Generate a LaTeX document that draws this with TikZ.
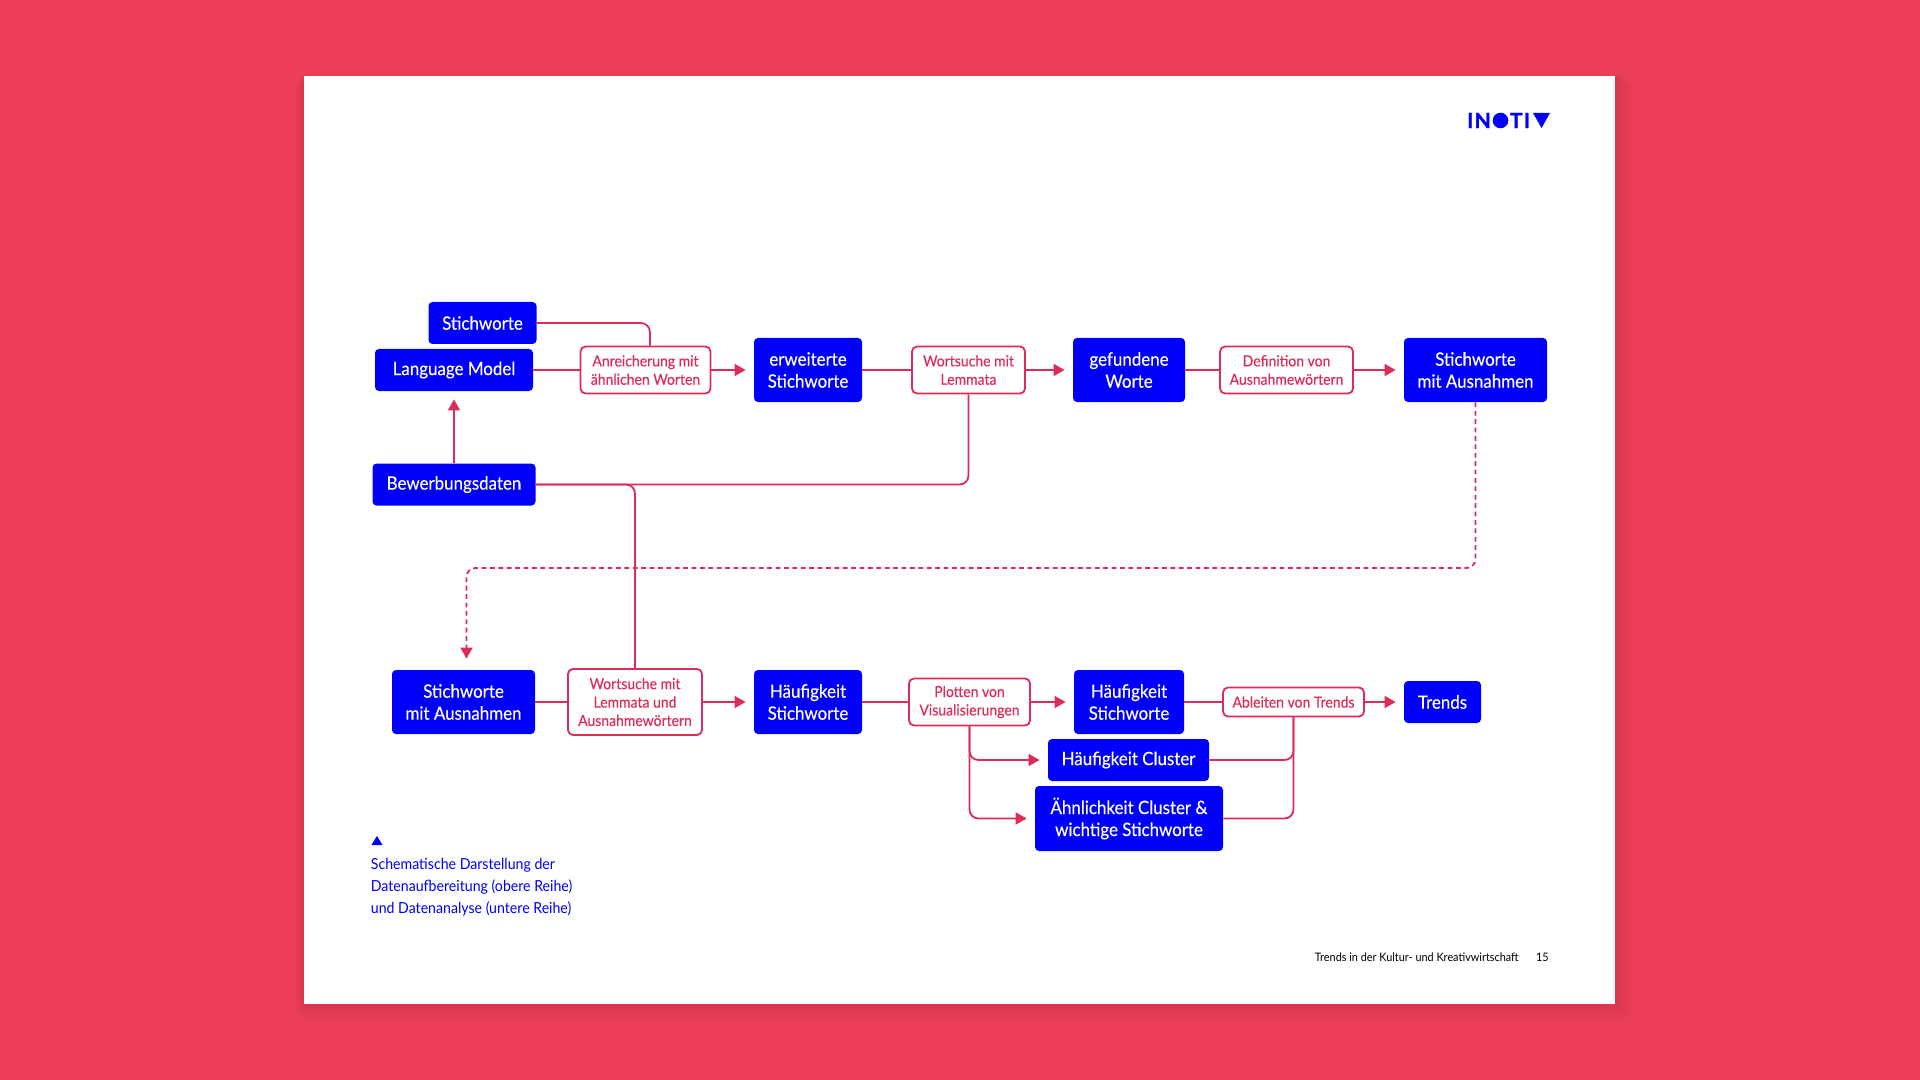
\documentclass[tikz,border=0pt]{standalone}
\usepackage{fontspec}
\setmainfont[FakeStretch=0.92,FakeBold=0.25]{Lato}
\newfontfamily\plainfont[FakeStretch=0.93]{Lato}
\newfontfamily\logofont[FakeBold=1.2,LetterSpace=6]{Lato}
\usepackage{tikz}
\usetikzlibrary{arrows.meta}
\definecolor{pagered}{HTML}{ED3E59}
\definecolor{linered}{HTML}{DC2C5A}
\definecolor{boxblue}{HTML}{0000FA}
\tikzset{
  databox/.style={fill=boxblue,text=white,rounded corners=2pt,inner sep=0pt,align=center,
    minimum height=21pt,font=\fontsize{9.2}{11}\selectfont},
  stepbox/.style={draw=linered,fill=white,text=linered,line width=0.9pt,rounded corners=2.5pt,inner sep=0pt,
    align=center,minimum height=23.5pt,font=\fontsize{7.6}{9.2}\selectfont},
  link/.style={draw=linered,line width=0.9pt,rounded corners=4.5pt},
  arr/.style={link,-{Triangle[length=5.5pt,width=6pt]},shorten >=4pt},
  smalltext/.style={anchor=east,inner sep=0pt,font=\plainfont\fontsize{5.85}{7}\selectfont},
  logotext/.style={text=boxblue,inner sep=0pt,font=\logofont\fontsize{10.5}{10.5}\bfseries\selectfont},
}
\begin{document}
\begin{tikzpicture}[x=0.5pt,y=-0.5pt]
  \useasboundingbox (0,0) rectangle (1920,1080);
  \fill [pagered] (0,0) rectangle (1920,1080);
  \foreach \s in {2,5,...,20}
    \fill [black,opacity=0.013,rounded corners=\s*0.5pt] (304-\s*0.5,76) rectangle (1615+\s,1004+\s);
  \fill [white] (304,76) rectangle (1615,1004);
  % logo
  \node [logotext] (logoA) at (1479,120.5) {IN};
  \fill [boxblue] (1500.5,120.5) circle (7.8);
  \node [logotext] (logoB) at (1520,120.5) {TI};
  \fill [boxblue] (1533,113) -- (1550,113) -- (1541.5,128) -- cycle;
  % upper row
  \node [databox,minimum width=54pt] (stichA) at (482.5,323) {Stichworte};
  \node [databox,minimum width=79pt] (lang) at (454,370) {Language Model};
  \node [stepbox,minimum width=65pt] (anr) at (645.5,370) {Anreicherung mit\\ähnlichen Worten};
  \node [databox,minimum width=54pt,minimum height=32pt] (erw) at (808,370) {erweiterte\\Stichworte};
  \node [stepbox,minimum width=56.5pt] (wortA) at (968.5,370) {Wortsuche mit\\Lemmata};
  \node [databox,minimum width=56pt,minimum height=32pt] (gef) at (1129,370) {gefundene\\Worte};
  \node [stepbox,minimum width=66.5pt] (defi) at (1286.5,370) {Definition von\\Ausnahmewörtern};
  \node [databox,minimum width=71.5pt,minimum height=32pt] (ausA) at (1475.5,370) {Stichworte\\mit Ausnahmen};
  \node [databox,minimum width=81.5pt] (bew) at (454,484.5) {Bewerbungsdaten};
  \coordinate (dashMid) at (900,568);
  % lower row
  \node [databox,minimum width=71.5pt,minimum height=32pt] (ausB) at (463.5,702) {Stichworte\\mit Ausnahmen};
  \node [stepbox,minimum width=67pt,minimum height=33pt] (wortB) at (635,702) {Wortsuche mit\\Lemmata und\\Ausnahmewörtern};
  \node [databox,minimum width=54pt,minimum height=32pt] (haeuA) at (808,702) {Häufigkeit\\Stichworte};
  \node [stepbox,minimum width=60.5pt] (plot) at (969.5,702) {Plotten von\\Visualisierungen};
  \node [databox,minimum width=55pt,minimum height=32pt] (haeuB) at (1129,702) {Häufigkeit\\Stichworte};
  \node [stepbox,minimum width=70.5pt,minimum height=14.5pt] (abl) at (1293.5,702) {Ableiten von Trends};
  \node [databox,minimum width=38.5pt] (trends) at (1442.5,702) {Trends};
  \node [databox,minimum width=80.5pt] (clus) at (1128.5,760) {Häufigkeit Cluster};
  \node [databox,minimum width=94pt,minimum height=32.5pt] (aehn) at (1129,818.5) {Ähnlichkeit Cluster \&\\wichtige Stichworte};
  % connectors
  \draw [link] (stichA.east) -| ([xshift=2.2pt]anr.north);
  \draw [link] (lang) -- (anr);
  \draw [arr] (anr) -- (erw);
  \draw [link] (erw) -- (wortA);
  \draw [arr] (wortA) -- (gef);
  \draw [link] (gef) -- (defi);
  \draw [arr] (defi) -- (ausA);
  \draw [arr] (bew) -- (lang);
  \draw [link] (bew.east) -| (wortA.south);
  \draw [link] (bew.east) -| (wortB.north);
  \draw [arr,dash pattern=on 2.4pt off 1.8pt,shorten >=5.5pt] (ausA.south) |- (dashMid) -| ([xshift=1.5pt]ausB.north);
  \draw [link] (ausB) -- (wortB);
  \draw [arr] (wortB) -- (haeuA);
  \draw [link] (haeuA) -- (plot);
  \draw [arr] (plot) -- (haeuB);
  \draw [link] (haeuB) -- (abl);
  \draw [arr] (abl) -- (trends);
  \draw [arr] (plot.south) |- (clus.west);
  \draw [arr] (plot.south) |- (aehn.west);
  \draw [link] (clus.east) -| (abl.south);
  \draw [link] (aehn.east) -| (abl.south);
  % note and footer
  \fill [boxblue] (371.5,845) -- (382.5,845) -- (377,836) -- cycle;
  \node [anchor=west,inner sep=0pt,text=boxblue,align=left,font=\plainfont\fontsize{7.6}{11}\selectfont] (note) at (370.5,887)
    {Schematische Darstellung der\\Datenaufbereitung (obere Reihe)\\und Datenanalyse (untere Reihe)};
  \node [smalltext] (foot) at (1519,957.5) {Trends in der Kultur- und Kreativwirtschaft};
  \node [smalltext] (page) at (1549,957.5) {15};
\end{tikzpicture}
\end{document}
